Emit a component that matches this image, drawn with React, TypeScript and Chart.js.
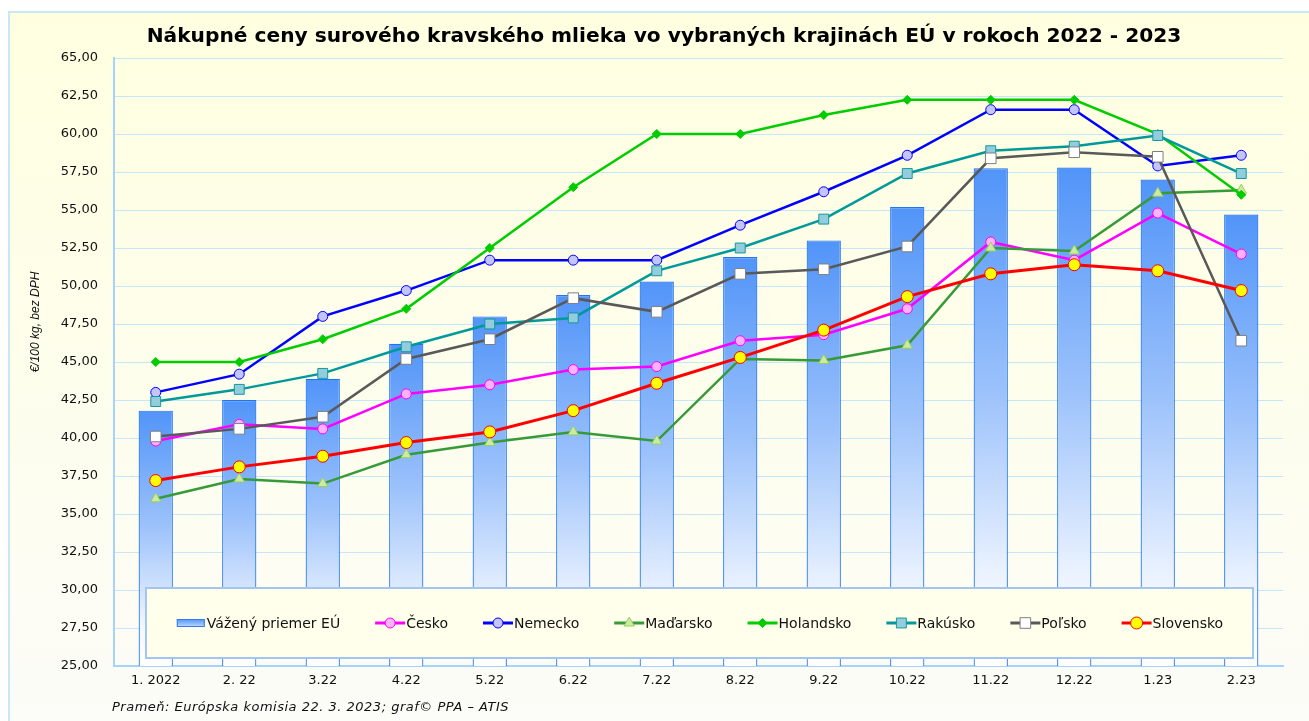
import React, { useEffect, useRef } from "react";
import { Chart, registerables } from "chart.js";
import { drawPoint } from "chart.js/helpers";

Chart.register(...registerables);

const titleText = "Nákupné ceny surového kravského mlieka vo vybraných krajinách EÚ v rokoch 2022 - 2023";
const yAxisTitle = "€/100 kg, bez DPH";
const footerText = "Prameň: Európska komisia 22. 3. 2023; graf© PPA – ATIS";

const categories = ["1. 2022", "2. 22", "3.22", "4.22", "5.22", "6.22", "7.22", "8.22", "9.22", "10.22", "11.22", "12.22", "1.23", "2.23"];
const euAverage = [41.8, 42.5, 43.9, 46.2, 48.0, 49.4, 50.3, 51.9, 53.0, 55.2, 57.75, 57.8, 57.0, 54.7];
const cesko = [39.8, 40.9, 40.6, 42.9, 43.5, 44.5, 44.7, 46.4, 46.8, 48.5, 52.9, 51.7, 54.8, 52.1];
const nemecko = [43.0, 44.2, 48.0, 49.7, 51.7, 51.7, 51.7, 54.0, 56.2, 58.6, 61.6, 61.6, 57.9, 58.6];
const madarsko = [36.0, 37.3, 37.0, 38.9, 39.7, 40.4, 39.8, 45.2, 45.1, 46.1, 52.5, 52.3, 56.1, 56.3];
const holandsko = [45.0, 45.0, 46.5, 48.5, 52.5, 56.5, 60.0, 60.0, 61.25, 62.25, 62.25, 62.25, 60.0, 56.0];
const rakusko = [42.4, 43.2, 44.25, 46.0, 47.5, 47.9, 51.0, 52.5, 54.4, 57.4, 58.9, 59.2, 59.9, 57.4];
const polsko = [40.1, 40.6, 41.4, 45.2, 46.5, 49.2, 48.3, 50.8, 51.1, 52.6, 58.4, 58.8, 58.5, 46.4];
const slovensko = [37.2, 38.1, 38.8, 39.7, 40.4, 41.8, 43.6, 45.3, 47.1, 49.3, 50.8, 51.4, 51.0, 49.7];
const yMin = 25;
const yMax = 65;
const yStep = 2.5;

const W = 1309;
const H = 721;

function barGradient(c: CanvasRenderingContext2D, top: number, bottom: number) {
  const g = c.createLinearGradient(0, top, 0, bottom);
  g.addColorStop(0, "#5194F9");
  g.addColorStop(0.45, "#9CC2FB");
  g.addColorStop(0.85, "#F2F7FF");
  g.addColorStop(1, "#FFFFFF");
  return g;
}

const framePlugin = {
  id: "frame",
  beforeDraw(chart: any) {
    const c: CanvasRenderingContext2D = chart.ctx;
    c.save();
    c.fillStyle = "#FFFFFF";
    c.fillRect(0, 0, W, H);
    const g = c.createLinearGradient(0, 11, 0, H);
    g.addColorStop(0, "#FFFFE0");
    g.addColorStop(1, "#FCFCF8");
    c.fillStyle = g;
    c.fillRect(9, 12, W + 20, H + 20);
    c.strokeStyle = "#CBE6F5";
    c.lineWidth = 2;
    c.strokeRect(9, 12, W + 20, H + 20);
    c.restore();
  },
  afterDraw(chart: any) {
    const c: any = chart.ctx;
    c.save();
    c.fillStyle = "#000000";
    c.font = 'bold 20.2px "DejaVu Sans"';
    c.textAlign = "center";
    c.textBaseline = "middle";
    c.fillText(titleText, 664, 37);
    c.font = 'italic 13px "DejaVu Sans"';
    c.textAlign = "left";
    c.fillStyle = "#111111";
    c.letterSpacing = "0.5px";
    c.fillText(footerText, 112, 708);
    c.letterSpacing = "0px";
    c.translate(36, 322);
    c.rotate(-Math.PI / 2);
    c.textAlign = "center";
    c.font = 'italic 12px "Liberation Sans"';
    c.fillText(yAxisTitle, 0, 0);
    c.restore();
  },
};

const legendPlugin = {
  id: "boxLegend",
  afterDatasetsDraw(chart: any) {
    const c: CanvasRenderingContext2D = chart.ctx;
    const bx = 146, by = 588, bw = 1107, bh = 70;
    c.save();
    c.fillStyle = "#FFFFEC";
    c.fillRect(bx, by, bw, bh);
    c.strokeStyle = "#A3C6F0";
    c.lineWidth = 2;
    c.strokeRect(bx, by, bw, bh);
    c.font = '14px "DejaVu Sans"';
    c.textBaseline = "middle";
    c.textAlign = "left";
    const iconW = 30;
    const gapIcon = 1;
    const gapItem = 35;
    const ds = chart.data.datasets;
    const widths = ds.map((d: any) => iconW + gapIcon + c.measureText(d.label).width);
    const total = widths.reduce((a: number, b: number) => a + b, 0) + gapItem * (ds.length - 1);
    let x = bx + (bw - total) / 2;
    const y = by + bh / 2;
    ds.forEach((d: any, i: number) => {
      if (d.type === "bar") {
        c.fillStyle = barGradient(c, y - 4, y + 8);
        c.fillRect(x + 1, y - 4, iconW - 2, 8);
        c.strokeStyle = "#2F7CF6";
        c.lineWidth = 1;
        c.strokeRect(x + 1.5, y - 3.5, iconW - 3, 7);
      } else {
        c.strokeStyle = d.borderColor;
        c.lineWidth = 3;
        c.beginPath();
        c.moveTo(x, y);
        c.lineTo(x + iconW, y);
        c.stroke();
        c.fillStyle = d.pointBackgroundColor;
        c.strokeStyle = d.pointBorderColor;
        c.lineWidth = d.pointBorderWidth;
        drawPoint(c, { pointStyle: d.pointStyle, radius: d.pointRadius, rotation: 0, borderWidth: d.pointBorderWidth } as any, x + iconW / 2, y);
      }
      c.fillStyle = "#111111";
      c.fillText(d.label, x + iconW + gapIcon, y + 1);
      x += widths[i] + gapItem;
    });
    c.restore();
  },
};

function lineDs(label: string, data: number[], color: string, fill: string, border: string, style: string, radius: number, order: number, width = 2.5) {
  return {
    type: "line" as const,
    label,
    data,
    borderColor: color,
    borderWidth: width,
    pointBackgroundColor: fill,
    pointBorderColor: border,
    pointBorderWidth: 1,
    pointStyle: style,
    pointRadius: radius,
    tension: 0,
    order,
  };
}

export default function App() {
  const ref = useRef<HTMLCanvasElement>(null);
  useEffect(() => {
    if (!ref.current) return;
    const chart = new Chart(ref.current, {
      data: {
        labels: categories,
        datasets: [
          {
            type: "bar" as const,
            label: "Vážený priemer EÚ",
            data: euAverage,
            backgroundColor: (ctx: any) => {
              const ch = ctx.chart;
              if (!ch.chartArea || ctx.type !== "data") return "#5597F9";
              const v = ctx.raw as number;
              const top = ch.scales.y.getPixelForValue(v);
              return barGradient(ch.ctx, top, ch.chartArea.bottom);
            },
            borderColor: "#1F74F7",
            borderWidth: 1.2,
            barPercentage: 0.41,
            categoryPercentage: 1,
            order: 10,
          } as any,
          lineDs("Česko", cesko, "#FF00FF", "#FFB3FF", "#FF00FF", "circle", 5, 7),
          lineDs("Nemecko", nemecko, "#0000FF", "#C4C4FF", "#0000FF", "circle", 5, 6),
          lineDs("Maďarsko", madarsko, "#369A36", "#CDEB9E", "#99CC66", "triangle", 6, 5),
          lineDs("Holandsko", holandsko, "#00CC00", "#00CC00", "#00CC00", "rectRot", 4.5, 4),
          lineDs("Rakúsko", rakusko, "#009999", "#93CDDD", "#109A9A", "rect", 7, 3),
          lineDs("Poľsko", polsko, "#595959", "#FFFFFF", "#7F7F7F", "rect", 7.5, 2),
          lineDs("Slovensko", slovensko, "#FF0000", "#FFFF00", "#FF0000", "circle", 6, 1, 3),
        ],
      } as any,
      options: {
        responsive: false,
        animation: false,
        layout: { padding: { left: 0, top: 58, right: 26, bottom: 0 } },
        plugins: {
          legend: { display: false },
          title: { display: false },
          tooltip: { enabled: false },
        },
        scales: {
          x: {
            type: "category",
            offset: true,
            grid: { display: false, drawTicks: false },
            border: { display: true, color: "#A6D2FF", width: 2 },
            ticks: {
              color: "#111111",
              font: { family: "DejaVu Sans", size: 13 },
              padding: 7,
              maxRotation: 0,
              autoSkip: false,
            },
            afterFit: (s: any) => {
              s.height = 55;
            },
          },
          y: {
            min: yMin,
            max: yMax,
            grid: { color: "#C8E6FA", lineWidth: 1, drawTicks: false },
            border: { display: true, color: "#A6D2FF", width: 2 },
            ticks: {
              stepSize: yStep,
              color: "#111111",
              font: { family: "DejaVu Sans", size: 13 },
              padding: 16,
              callback: (v: any) => Number(v).toFixed(2).replace(".", ","),
            },
            afterFit: (s: any) => {
              s.width = 114;
            },
          },
        },
      } as any,
      plugins: [framePlugin, legendPlugin],
    });
    return () => chart.destroy();
  }, []);
  return (
    <div style={{ position: "absolute", left: 0, top: 0, width: W, height: H }}>
      <canvas ref={ref} width={W} height={H} style={{ display: "block", width: W, height: H }} />
    </div>
  );
}
